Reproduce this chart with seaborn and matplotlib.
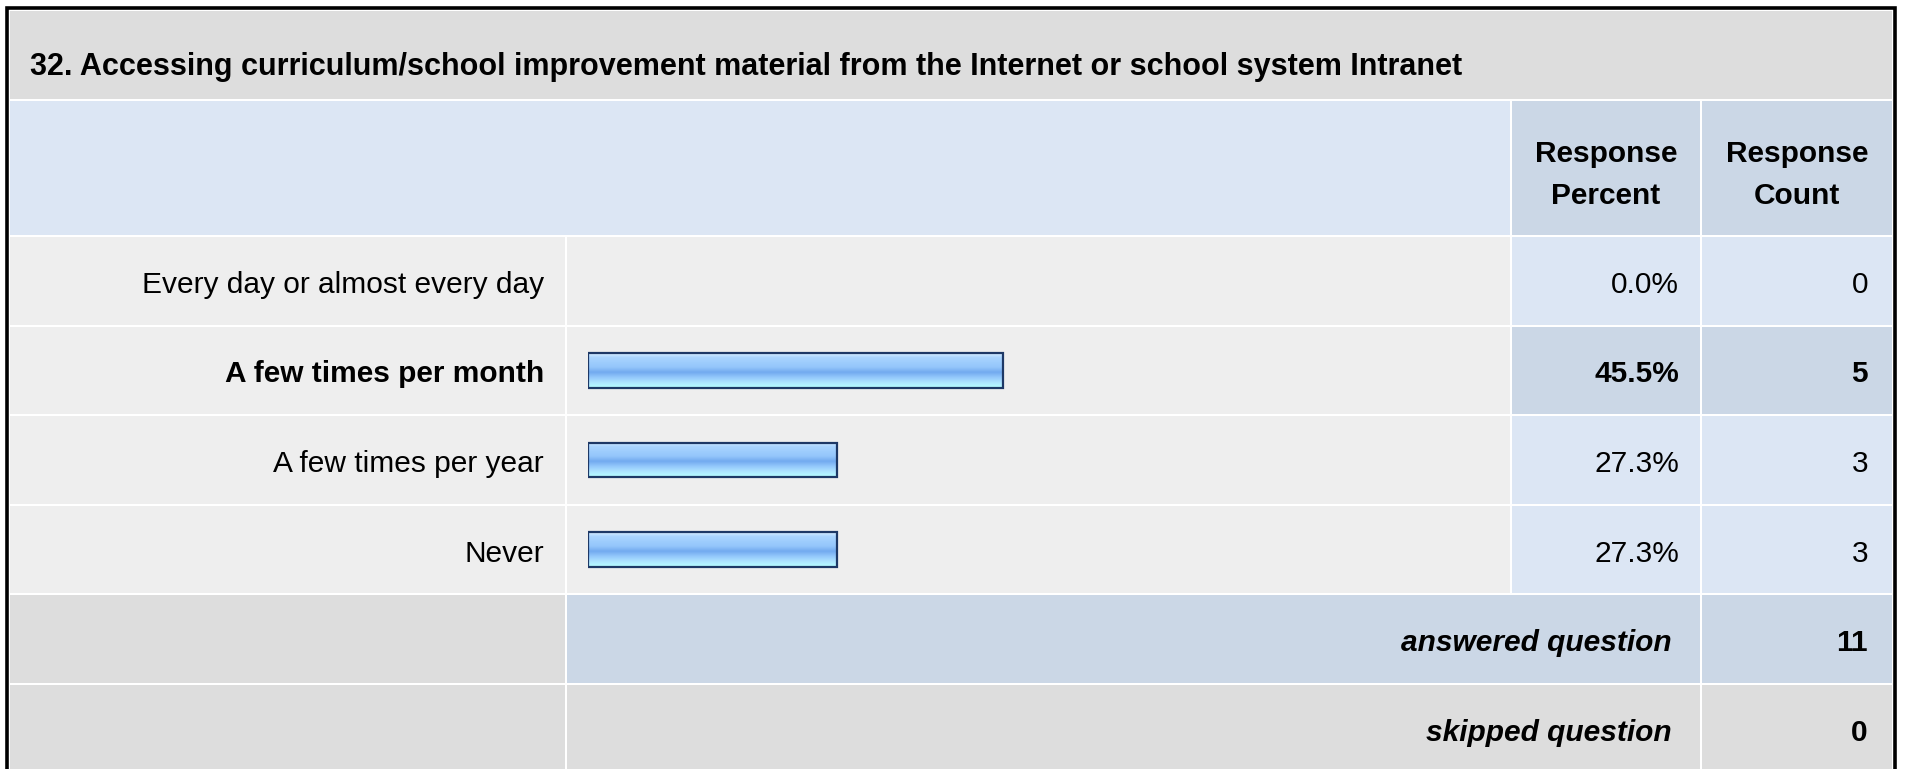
import numpy as np
import pandas as pd
import matplotlib
matplotlib.use("Agg")
import matplotlib.pyplot as plt
from matplotlib.patches import Rectangle
from matplotlib.colors import LinearSegmentedColormap
import seaborn as sns

title = "32. Accessing curriculum/school improvement material from the Internet or school system Intranet"
answer_options = ["Every day or almost every day", "A few times per month",
                  "A few times per year", "Never"]
response_percent = [0.0, 45.5, 27.3, 27.3]
response_count = [0, 5, 3, 3]
header_percent = ["Response", "Percent"]
header_count = ["Response", "Count"]
answered_question = 11
skipped_question = 0

df = pd.DataFrame({"option": answer_options,
                   "percent": response_percent,
                   "count": response_count})
top_row = int(df["percent"].idxmax())

sns.set_style("white")
plt.rcParams["font.family"] = ["Liberation Sans", "DejaVu Sans"]
plt.rcParams["text.color"] = "black"

W, H = 1907, 769
fig = plt.figure(figsize=(W / 100, H / 100), dpi=100)
fig.patch.set_facecolor("white")

# background axes in pixel coordinates for the table cells
ax = fig.add_axes([0, 0, 1, 1])
ax.set_xlim(0, W)
ax.set_ylim(H, 0)
ax.axis("off")

GREY = "#dddddd"
ROW = "#eeeeee"
LIGHT = "#dce6f4"
DARK = "#cbd7e6"
FS = 21.5
DY = 4  # text baseline nudge

def cell(x0, x1, y0, y1, color):
    ax.add_patch(Rectangle((x0 + 1, y0 + 1), x1 - x0 - 2, y1 - y0 - 2,
                           facecolor=color, edgecolor="none", zorder=1))

def label(x, y, s, ha="right", **kw):
    ax.text(x, y + DY, s, fontsize=kw.pop("fontsize", FS), ha=ha, va="center",
            color="black", zorder=5, **kw)

cols = [9, 566, 1511, 1701, 1893]
row_top = 236
row_h = 89.6
rows = [row_top + i * row_h for i in range(7)]

# title band and header
cell(cols[0], cols[-1], 10, 100, GREY)
cell(cols[0], cols[2], 100, rows[0], LIGHT)
cell(cols[2], cols[3], 100, rows[0], DARK)
cell(cols[3], cols[4], 100, rows[0], DARK)
label(30, 62.5, title, ha="left", fontsize=22, fontweight="bold")
for c, lines in [(0, header_percent), (1, header_count)]:
    xc = (cols[2 + c] + cols[3 + c]) / 2
    label(xc, 150.5, lines[0], ha="center", fontweight="bold")
    label(xc, 192.5, lines[1], ha="center", fontweight="bold")

# answer rows
for i, row in df.iterrows():
    y0, y1 = rows[i], rows[i + 1]
    yc = (y0 + y1) / 2
    val_bg = DARK if i == top_row else LIGHT
    weight = "bold" if i == top_row else "normal"
    cell(cols[0], cols[1], y0, y1, ROW)
    cell(cols[1], cols[2], y0, y1, ROW)
    cell(cols[2], cols[3], y0, y1, val_bg)
    cell(cols[3], cols[4], y0, y1, val_bg)
    label(544, yc, row["option"], fontweight=weight)
    label(1679, yc, f"{row['percent']:.1f}%", fontweight=weight)
    label(1868, yc, f"{row['count']}", fontweight=weight)

# summary rows
n = len(df)
y0, y1 = rows[n], rows[n + 1]
cell(cols[0], cols[1], y0, y1, GREY)
cell(cols[1], cols[3], y0, y1, DARK)
cell(cols[3], cols[4], y0, y1, DARK)
label(1672, (y0 + y1) / 2, "answered question", fontweight="bold", style="italic")
label(1868, (y0 + y1) / 2, str(answered_question), fontweight="bold")
y0, y1 = rows[n + 1], rows[n + 2]
cell(cols[0], cols[1], y0, y1, GREY)
cell(cols[1], cols[3], y0, y1, GREY)
cell(cols[3], cols[4], y0, y1, GREY)
label(1672, (y0 + y1) / 2, "skipped question", fontweight="bold", style="italic")
label(1868, (y0 + y1) / 2, str(skipped_question), fontweight="bold")

# outer border (left, top, right)
ax.plot([6.5, 6.5, 1895, 1895], [H + 5, 7.5, 7.5, H + 5], color="black",
        lw=2.6, solid_joinstyle="miter", zorder=6, clip_on=False)

# ---- bars via seaborn ----
bar_left, bar_span = 588, 912
bax = fig.add_axes([bar_left / W, 1 - rows[n] / H, bar_span / W, (rows[n] - rows[0]) / H])
bax.patch.set_alpha(0)
sns.barplot(data=df, x="percent", y="option", orient="h", color="#8cc0f7",
            width=0.39, ax=bax, zorder=3)

grad = LinearSegmentedColormap.from_list("bar", [
    (0.0, "#d8eeff"), (0.12, "#a9d4ff"), (0.4, "#94c6fb"), (0.55, "#72aaef"),
    (0.7, "#94c9fc"), (0.85, "#aee4ff"), (1.0, "#b6ffff")])
for p in bax.patches:
    w = p.get_width()
    if w <= 0:
        p.set_visible(False)
        continue
    x, y, h = p.get_x(), p.get_y(), p.get_height()
    img = bax.imshow(np.linspace(0, 1, 64).reshape(-1, 1), cmap=grad, aspect="auto",
                     extent=(x, x + w, y + h, y), origin="upper", zorder=2)
    img.set_clip_path(p)
    p.set_facecolor("none")
    p.set_edgecolor("#1d3866")
    p.set_linewidth(1.6)
bax.set_xlim(0, 100)
bax.set_ylim(n - 0.5, -0.5)
bax.axis("off")

fig.savefig("out.png", dpi=100)
